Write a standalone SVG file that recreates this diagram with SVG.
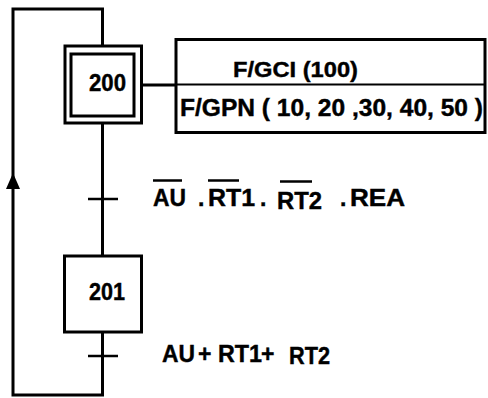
<svg xmlns="http://www.w3.org/2000/svg" width="488" height="398" viewBox="0 0 488 398">
<style>
.ln{stroke:#000;stroke-width:3;fill:none}
.bx{stroke:#000;stroke-width:3;fill:#fff}
.tk{stroke:#000;stroke-width:2.5}
.t{font-family:"Liberation Sans",Arial,sans-serif;font-weight:bold;fill:#000;stroke:#000;stroke-width:0.4}
</style>
<rect width="488" height="398" fill="#fff"/>
<g id="connectors">
<path class="ln" d="M102.5,46 V9 H13 V395 H102.5 V332"/>
<path class="ln" d="M102.5,123 V256"/>
<path class="ln" d="M141.5,85 H176"/>
<path d="M13,189 L6,189 L13,173 L20,189 Z" fill="#000"/>
</g>
<g id="step200">
<rect class="bx" x="65" y="46" width="76.5" height="77"/>
<rect class="bx" x="71" y="54" width="63" height="62"/>
<text class="t" x="107.5" y="91" font-size="23" text-anchor="middle" textLength="37" lengthAdjust="spacingAndGlyphs">200</text>
</g>
<g id="action200">
<rect class="bx" x="176" y="39.5" width="309" height="93"/>
<line x1="176" y1="84.5" x2="485" y2="84.5" stroke="#000" stroke-width="2"/>
<text class="t" x="233" y="76.5" font-size="21.5" textLength="125" lengthAdjust="spacingAndGlyphs">F/GCI (100)</text>
<text class="t" x="180" y="116" font-size="23" textLength="303" lengthAdjust="spacingAndGlyphs">F/GPN ( 10, 20 ,30, 40, 50 )</text>
</g>
<g id="transition1">
<line class="tk" x1="88" y1="199" x2="118" y2="199"/>
<text class="t" x="153" y="205.5" font-size="23" textLength="33" lengthAdjust="spacingAndGlyphs">AU</text>
<text class="t" x="198" y="205.5" font-size="23">.</text>
<text class="t" x="208" y="205.5" font-size="23" textLength="47" lengthAdjust="spacingAndGlyphs">RT1</text>
<text class="t" x="260" y="205.5" font-size="23">.</text>
<text class="t" x="277" y="209" font-size="23" textLength="45" lengthAdjust="spacingAndGlyphs">RT2</text>
<text class="t" x="340" y="205.5" font-size="23">.</text>
<text class="t" x="350" y="205.5" font-size="23" textLength="55" lengthAdjust="spacingAndGlyphs">REA</text>
<line class="tk" x1="153" y1="180.5" x2="182" y2="180.5" stroke-width="2"/>
<line class="tk" x1="208" y1="180.5" x2="239" y2="180.5" stroke-width="2"/>
<line class="tk" x1="280" y1="181.5" x2="312" y2="181.5" stroke-width="2"/>
</g>
<g id="step201">
<rect class="bx" x="64.5" y="256" width="77" height="76"/>
<text class="t" x="107" y="300" font-size="23" text-anchor="middle" textLength="36" lengthAdjust="spacingAndGlyphs">201</text>
</g>
<g id="transition2">
<line class="tk" x1="88" y1="356" x2="118" y2="356"/>
<text class="t" x="162" y="361.5" font-size="23" textLength="33" lengthAdjust="spacingAndGlyphs">AU</text>
<text class="t" x="198" y="361.5" font-size="23">+</text>
<text class="t" x="218" y="361.5" font-size="23" textLength="44" lengthAdjust="spacingAndGlyphs">RT1</text>
<text class="t" x="261" y="361.5" font-size="23">+</text>
<text class="t" x="289" y="364" font-size="23" textLength="41" lengthAdjust="spacingAndGlyphs">RT2</text>
</g>
</svg>
